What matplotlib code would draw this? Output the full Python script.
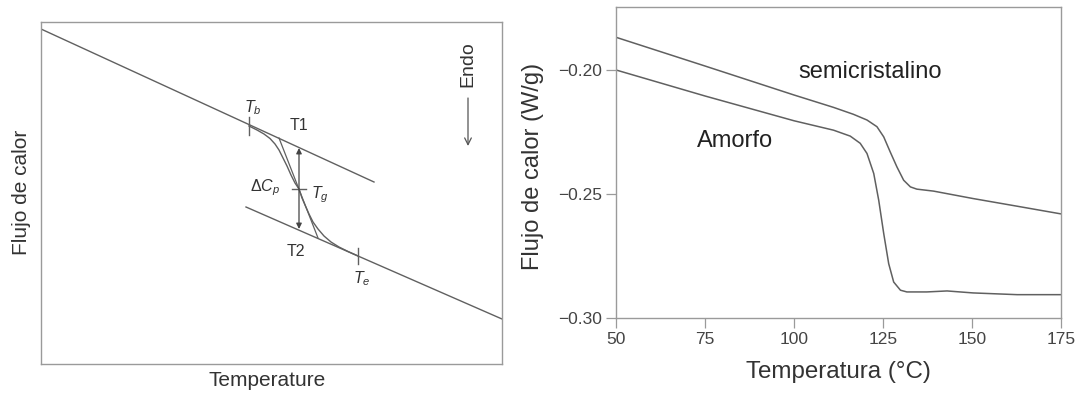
import matplotlib
matplotlib.use("Agg")
import matplotlib.pyplot as plt

plt.rcParams['font.family'] = ['Liberation Sans', 'DejaVu Sans']
plt.rcParams['mathtext.fontset'] = 'custom'
plt.rcParams['mathtext.rm'] = 'Liberation Sans'
plt.rcParams['mathtext.it'] = 'Liberation Sans:italic'
plt.rcParams['axes.unicode_minus'] = True

# ---------------- Left schematic (arbitrary units) ----------------
upper_x = [41, 374]
upper_y = [29, 182]
lower_x = [246, 502]
lower_y = [207, 319]
trans_x = [249, 257, 264, 270, 275, 279, 283, 287, 291, 295, 299, 302, 305, 309, 313, 318, 324, 331, 339, 348, 358]
trans_y = [126, 130, 134, 138.5, 144, 150, 158, 166, 175, 183, 189, 198, 205, 214, 222, 229, 236, 242, 247, 251.5, 256]
tangent_x = [279, 318]
tangent_y = [138, 238]
tb, tg, te = (249, 126), (299, 189), (358, 256)
dcp_x, dcp_top, dcp_bot = 299, 148, 229

# ---------------- Right DSC curves ----------------
temp_semi = [50, 75, 100, 111.1, 116.7, 120.5, 123.3, 125.2, 127.0, 128.9, 130.8, 132.7, 134.5, 139.2, 150.3, 162.7, 175]
flow_semi = [-0.1868, -0.1984, -0.2101, -0.2151, -0.2179, -0.2202, -0.2229, -0.2270, -0.2330, -0.2391,
             -0.2445, -0.2472, -0.2481, -0.2489, -0.2519, -0.2550, -0.2581]
temp_amor = [50, 75, 100, 111.1, 115.8, 118.6, 120.5, 122.4, 123.8, 125.2, 126.6, 128.0, 129.9, 131.7,
             137.3, 143.0, 150.3, 162.7, 175]
flow_amor = [-0.2000, -0.2105, -0.2205, -0.2243, -0.2267, -0.2296, -0.2337, -0.2418, -0.2526, -0.2660,
             -0.2782, -0.2856, -0.2889, -0.2896, -0.2896, -0.2892, -0.2900, -0.2907, -0.2907]
xticks = [50, 75, 100, 125, 150, 175]
yticks = [-0.30, -0.25, -0.20]
ytick_labels = ['\u22120.30', '\u22120.25', '\u22120.20']

W, H = 1081, 394
fig = plt.figure(figsize=(W / 100, H / 100), dpi=100)

line_c = '#606060'
frame_c = '#9a9a9a'

# Left axes
axL = fig.add_axes([41 / W, (H - 364) / H, 461 / W, 342 / H])
axL.set_xlim(41, 502)
axL.set_ylim(364, 22)
axL.set_xticks([])
axL.set_yticks([])
for s in axL.spines.values():
    s.set_color(frame_c)
    s.set_linewidth(1.0)
axL.plot(upper_x, upper_y, color=line_c, lw=1.0)
axL.plot(lower_x, lower_y, color=line_c, lw=1.0)
axL.plot(trans_x, trans_y, color=line_c, lw=1.0)
axL.plot(tangent_x, tangent_y, color=line_c, lw=0.9)
axL.annotate('', xy=(dcp_x, dcp_top), xytext=(dcp_x, dcp_bot),
             arrowprops=dict(arrowstyle='<|-|>', color='#444444', lw=0.9,
                             mutation_scale=8, shrinkA=0, shrinkB=0))
axL.plot([tb[0], tb[0]], [tb[1] - 9, tb[1] + 9], color=line_c, lw=1.0)
axL.plot([tg[0] - 7, tg[0] + 7], [tg[1], tg[1]], color=line_c, lw=1.0)
axL.plot([te[0], te[0]], [te[1] - 8, te[1] + 8], color=line_c, lw=1.0)
tc = '#333333'
axL.text(253, 108, r'$T_b$', ha='center', va='center', fontsize=11.5, color=tc)
axL.text(299, 125, 'T1', ha='center', va='center', fontsize=11.5, color=tc)
axL.text(265, 188, r'$\Delta C_p$', ha='center', va='center', fontsize=11.5, color=tc)
axL.text(320, 195, r'$T_g$', ha='center', va='center', fontsize=11.5, color=tc)
axL.text(296, 252, 'T2', ha='center', va='center', fontsize=11.5, color=tc)
axL.text(362, 279, r'$T_e$', ha='center', va='center', fontsize=11.5, color=tc)
axL.text(468, 64, 'Endo', rotation=90, ha='center', va='center', fontsize=14, color=tc)
axL.annotate('', xy=(468, 146), xytext=(468, 98),
             arrowprops=dict(arrowstyle='->', color='#555555', lw=0.9,
                             mutation_scale=12, shrinkA=0, shrinkB=0))
fig.text(267 / W, 1 - 380 / H, 'Temperature', ha='center', va='center', fontsize=15, color='#333333')
fig.text(22 / W, 1 - 192 / H, 'Flujo de calor', rotation=90, ha='center', va='center', fontsize=15, color='#333333')

# Right axes
x0, x1 = 616, 1061
y_top, y_bot = 7.3, 317.7
axR = fig.add_axes([x0 / W, (H - y_bot) / H, (x1 - x0) / W, (y_bot - y_top) / H])
axR.plot(temp_semi, flow_semi, color=line_c, lw=1.1)
axR.plot(temp_amor, flow_amor, color=line_c, lw=1.1)
axR.set_xlim(50, 175)
axR.set_ylim(-0.30, -0.1747)
axR.set_xticks(xticks)
axR.set_yticks(yticks)
axR.set_yticklabels(ytick_labels)
axR.tick_params(direction='out', length=7, width=0.9, color=frame_c, labelsize=12.5,
                labelcolor='#444444', pad=3)
for s in axR.spines.values():
    s.set_color(frame_c)
    s.set_linewidth(1.0)
axR.text(121.5, -0.2009, 'semicristalino', ha='center', va='center', fontsize=17, color='#222222')
axR.text(83.3, -0.2286, 'Amorfo', ha='center', va='center', fontsize=17, color='#222222')
fig.text(838.5 / W, 1 - 371.7 / H, 'Temperatura (°C)', ha='center', va='center', fontsize=17.4, color='#333333')
fig.text(533 / W, 1 - 166 / H, 'Flujo de calor (W/g)', rotation=90, ha='center', va='center', fontsize=17, color='#333333')

fig.savefig('out.png', dpi=100)
